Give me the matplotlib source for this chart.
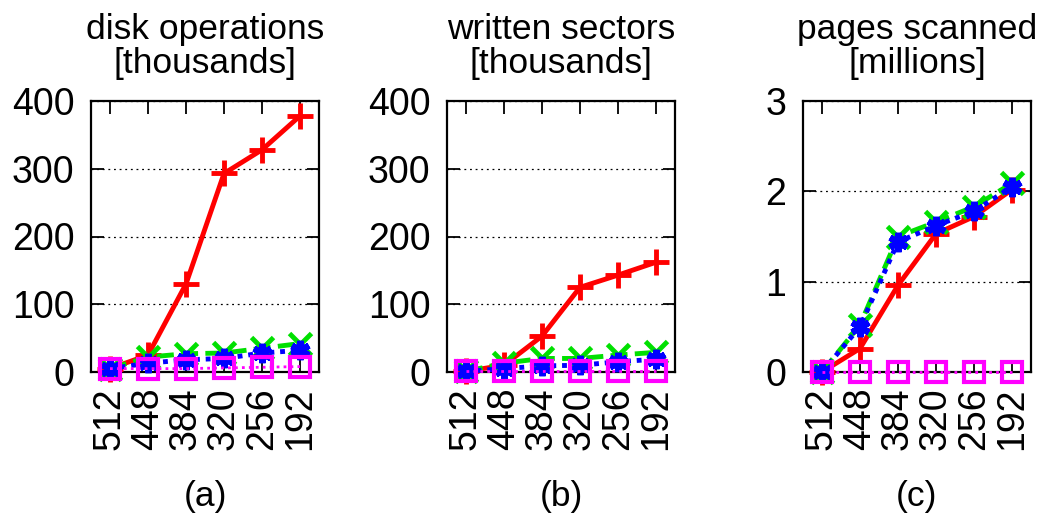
import matplotlib

matplotlib.use("Agg")
import matplotlib.pyplot as plt  # noqa: E402

plt.rcParams["font.family"] = ["Liberation Sans", "DejaVu Sans"]

memory_sizes = ["512", "448", "384", "320", "256", "192"]

# disk operations [thousands]
disk_red = [5, 25, 130, 293, 328, 378]
disk_green = [5, 22, 27, 28, 35, 42]
disk_blue = [5, 13, 18, 20, 28, 32]
disk_magenta = [5, 5, 5, 6, 7, 8]

# written sectors [thousands]
sect_red = [1, 10, 53, 125, 143, 162]
sect_green = [1, 13, 20, 20, 25, 29]
sect_blue = [1, 5, 9, 10, 15, 19]
sect_magenta = [1, 1, 1, 1, 1, 1]

# pages scanned [millions]
scan_red = [0.0, 0.26, 0.96, 1.53, 1.72, 2.02]
scan_green = [0.0, 0.52, 1.50, 1.66, 1.83, 2.09]
scan_blue = [0.0, 0.50, 1.44, 1.62, 1.78, 2.05]
scan_magenta = [0.0, 0.0, 0.0, 0.0, 0.0, 0.0]

panels = [
    ("disk operations\n[thousands]", "(a)", (0, 400), [0, 100, 200, 300, 400],
     (disk_red, disk_green, disk_blue, disk_magenta)),
    ("written sectors\n[thousands]", "(b)", (0, 400), [0, 100, 200, 300, 400],
     (sect_red, sect_green, sect_blue, sect_magenta)),
    ("pages scanned\n[millions]", "(c)", (0, 3), [0, 1, 2, 3],
     (scan_red, scan_green, scan_blue, scan_magenta)),
]

styles = [
    dict(color="#ff0000", ls="-", lw=3.5, marker="+", ms=19, mew=3.5),
    dict(color="#00e000", ls=(0, (3.5, 1.5)), lw=3.5, marker="x", ms=16, mew=3.5),
    dict(color="#0000ff", ls=(0, (1, 1.2)), lw=3.5, marker=(6, 2, 0), ms=14, mew=4.5),
    dict(color="#ff00ff", ls=(0, (1, 1.5)), lw=2, marker="s", ms=15, mew=3,
         mfc="none"),
]

fig = plt.figure(figsize=(10.43, 5.18), dpi=100)
lefts = [91, 447, 803]
x = list(range(len(memory_sizes)))

for left, (title, tag, ylim, yticks, series) in zip(lefts, panels):
    ax = fig.add_axes([left / 1043, 1 - 372 / 518, 228 / 1043, 271 / 518])
    for vals, st in zip(series, styles):
        ax.plot(x, vals, clip_on=False, zorder=3, **st)
    ax.set_xlim(-0.5, len(memory_sizes) - 0.5)
    ax.set_ylim(*ylim)
    ax.set_yticks(yticks)
    ax.set_xticks(x)
    ax.set_xticklabels(memory_sizes, rotation=90, fontsize=27)
    ax.tick_params(axis="y", labelsize=27, pad=12)
    ax.tick_params(axis="x", pad=11)
    ax.tick_params(direction="in", length=9, width=1.3, top=True, right=True,
                   color="black")
    for sp in ax.spines.values():
        sp.set_linewidth(1.6)
    ax.grid(axis="y", color="black", ls=(0, (1.5, 3)), lw=0.9)
    ax.set_axisbelow(True)
    ax.set_title(title, fontsize=25.5, linespacing=1.05, pad=20)
    ax.text(0.5, -0.46, tag, transform=ax.transAxes, ha="center", va="center",
            fontsize=25.5)

fig.savefig("out.png", dpi=100)
plt.close(fig)
